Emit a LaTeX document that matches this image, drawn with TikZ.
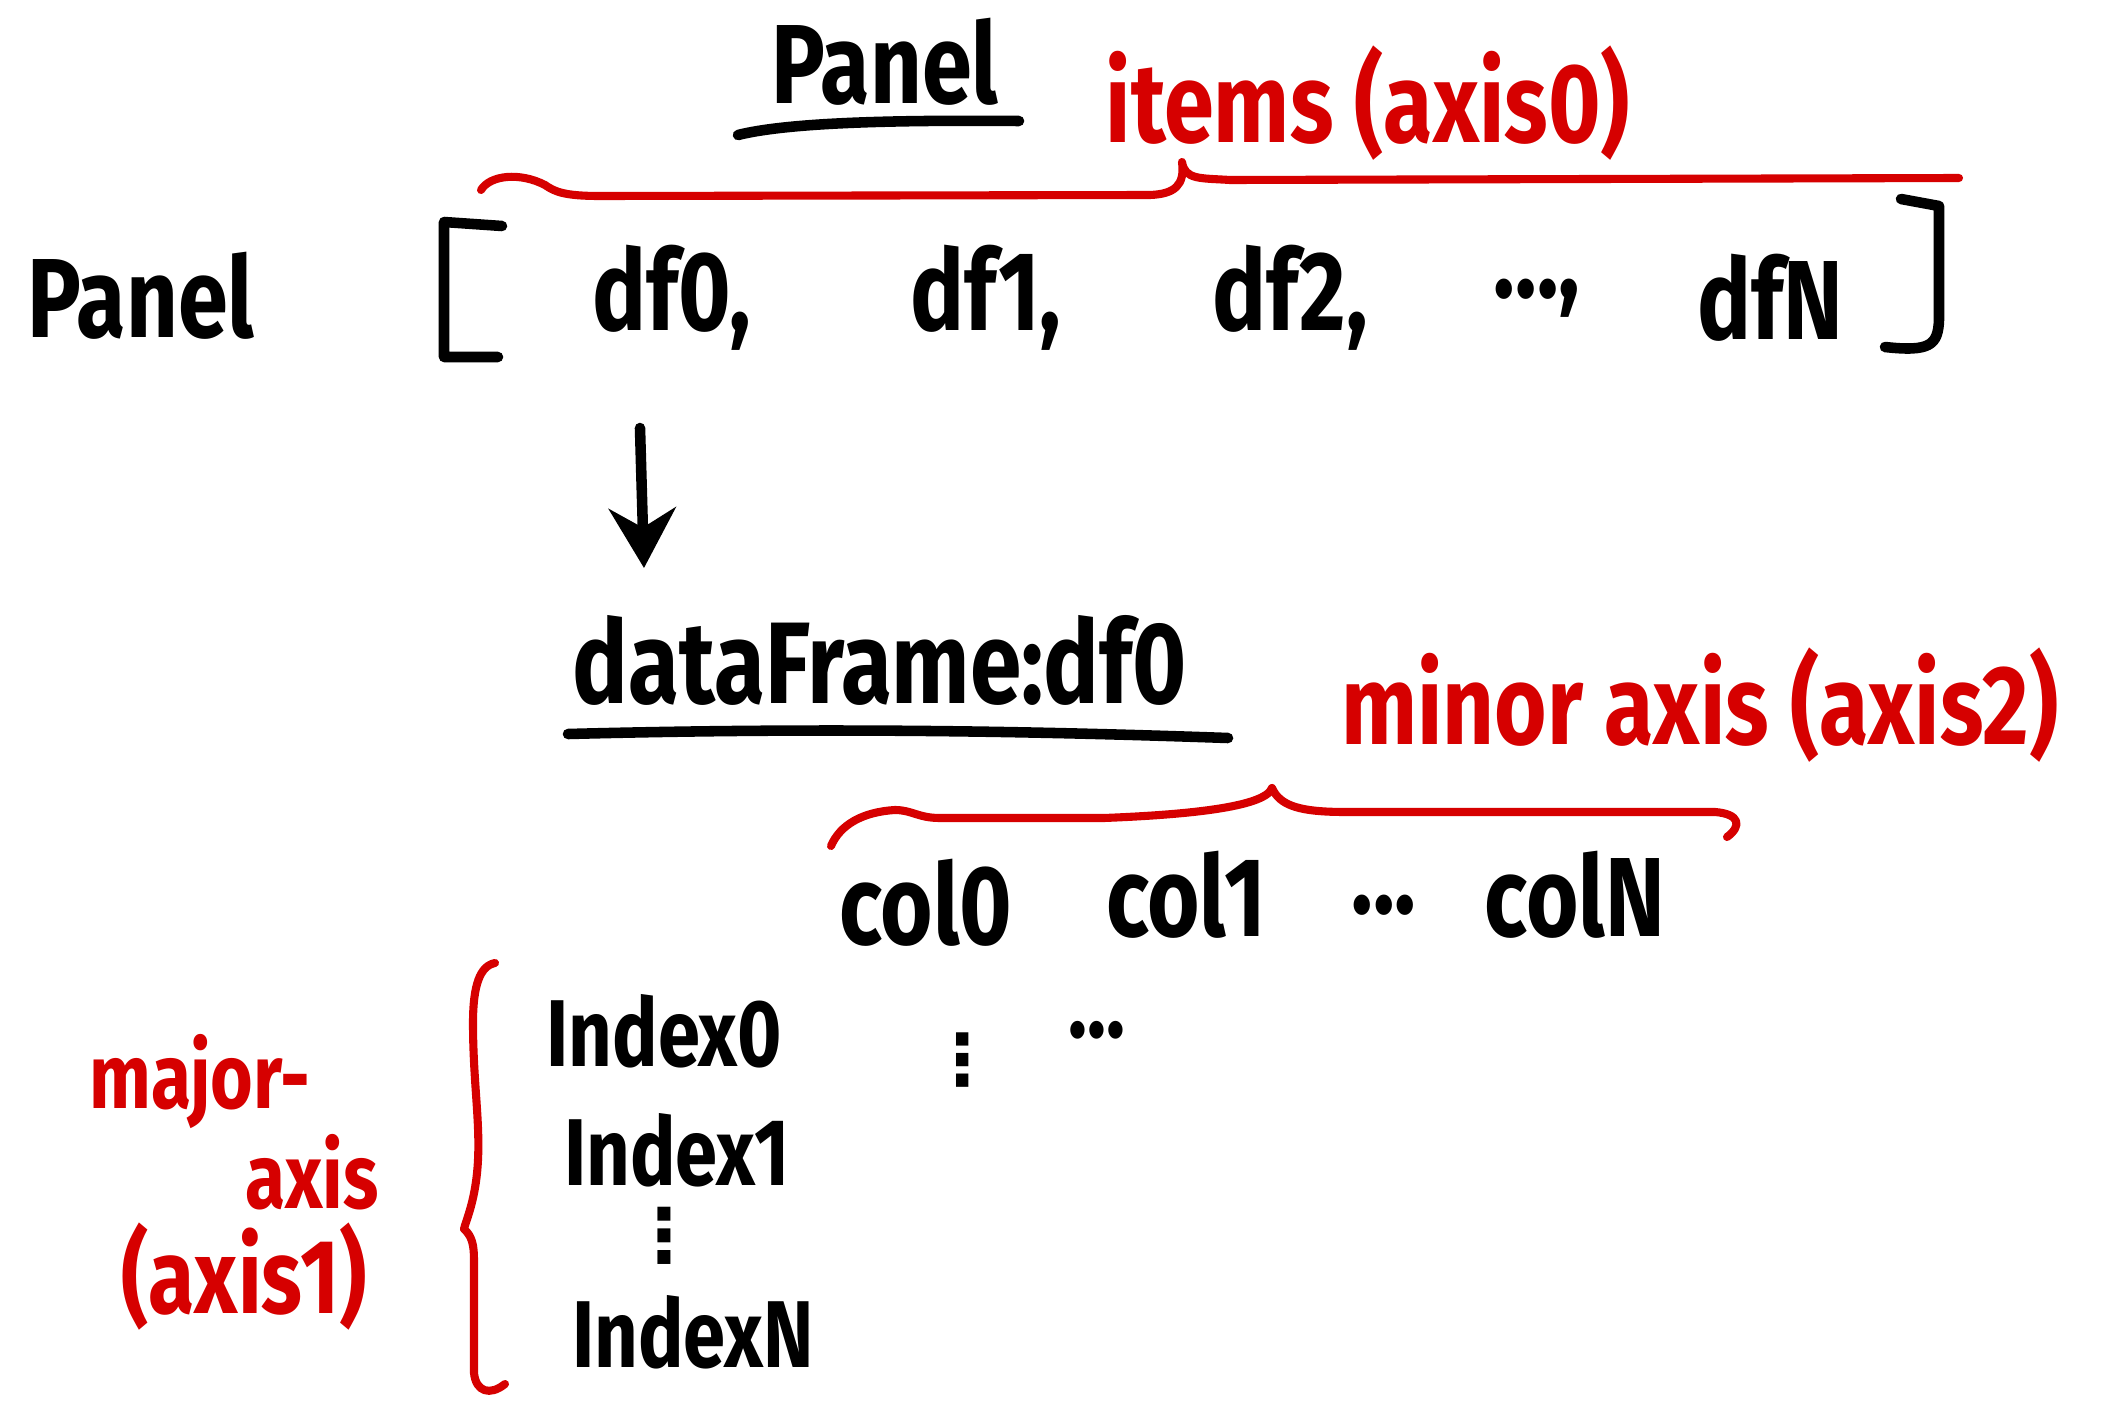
\documentclass[tikz,border=0pt]{standalone}
\usepackage{fontspec}
\setmainfont{Fira Sans}
\newfontfamily\hand[FakeStretch=0.8]{Fira Sans}
\newfontfamily\symfont{DejaVu Sans}
\usetikzlibrary{arrows.meta}
\definecolor{penred}{RGB}{214,0,0}
\begin{document}
\begin{tikzpicture}[x=0.01cm,y=-0.01cm,
  hw/.style={font=\hand\bfseries\fontsize{32}{38}\selectfont, text=black, inner sep=0pt},
  hwred/.style={hw, text=penred},
  hwsmall/.style={font=\hand\bfseries\fontsize{26}{30}\selectfont, text=penred, inner sep=0pt},
  idx/.style={font=\hand\bfseries\fontsize{27}{32}\selectfont, text=black, inner sep=0pt},
  pen/.style={line width=3pt, line cap=round, line join=round},
  redpen/.style={line width=2.3pt, draw=penred, line cap=round, line join=round},
  arr/.style={pen, -{Stealth[length=17pt,width=19pt]}}]
\useasboundingbox[fill=white] (0,0) rectangle (2111,1421);

% titles
\node[hw] (paneltitle) at (885,62) {Panel};
\draw[pen] (738,135) .. controls (790,122) and (900,120) .. (1019,121);
\node[hwred] (items) at (1368,103) {items (axis0)};

% top brace
\draw[redpen] (481,190) .. controls (490,175) and (520,172) .. (545,185)
  .. controls (555,192) and (565,196) .. (600,196) -- (1150,195)
  .. controls (1175,194) and (1185,185) .. (1182,162)
  .. controls (1185,180) and (1200,178) .. (1230,180) -- (1959,178);

% left label
\node[hw] (panelleft) at (141,296) {Panel};

% brackets
\draw[pen] (502,226) -- (444,222) -- (444,357) -- (498,357);
\draw[pen] (1901,199) -- (1939,206) -- (1939,320) .. controls (1938,345) and (1930,352) .. (1885,347);

% list items
\node[hw] (df0) at (672,298) {df0,};
\node[hw] (df1) at (986,298) {df1,};
\node[hw] (df2) at (1290,298) {df2,};
\node[hw] (dfdots) at (1537,298) {…,};
\node[hw] (dfN) at (1770,298) {dfN};

% arrow
\coordinate (arrs) at (640,428);
\coordinate (arre) at (644,568);
\draw[arr] (arrs) -- (arre);

% dataframe
\node[hw, font=\hand\bfseries\fontsize{33}{38}\selectfont] (dataframe) at (880,660) {dataFrame:df0};
\draw[pen] (568,734) .. controls (800,728) and (1000,730) .. (1228,738);
\node[hwred] (minor) at (1700,705) {minor axis (axis2)};

% minor brace
\draw[redpen] (831,846) .. controls (840,825) and (862,812) .. (895,810)
  .. controls (912,810) and (918,818) .. (940,818) -- (1104,818)
  .. controls (1180,815) and (1265,808) .. (1272,788)
  .. controls (1280,806) and (1300,812) .. (1346,812) -- (1715,812)
  .. controls (1740,814) and (1742,826) .. (1727,837);

% columns
\node[hw] (col0) at (926,903) {col0};
\node[hw] (col1) at (1186,895) {col1};
\node[hw] (coldots) at (1384,905) {...};
\node[hw] (colN) at (1575,895) {colN};

% major brace
\draw[redpen] (495,963) .. controls (480,966) and (473,985) .. (473,1023)
  .. controls (473,1080) and (480,1120) .. (478,1160)
  .. controls (476,1200) and (466,1220) .. (464,1229)
  .. controls (472,1236) and (474,1245) .. (474,1260) -- (474,1373)
  .. controls (476,1392) and (490,1396) .. (505,1384);

% major labels
\node[hwsmall] (major) at (200,1082) {major-};
\node[hwsmall] (axisword) at (312,1172) {axis};
\node[hwred, font=\hand\bfseries\fontsize{30}{34}\selectfont] (axisone) at (244,1277) {(axis1)};

% index
\node[idx] (index0) at (664,1031) {Index0};
\node[idx] (index1) at (677,1150) {Index1};
\node[font=\symfont\bfseries\fontsize{21}{24}\selectfont, inner sep=0pt] (idxdots) at (664,1236) {⋮};
\node[idx] (indexN) at (693,1332) {IndexN};

% stray dots
\node[font=\symfont\bfseries\fontsize{20}{24}\selectfont, inner sep=0pt] (vdots) at (963,1060) {⋮};
\node[hw, font=\hand\bfseries\fontsize{28}{30}\selectfont] (hdots) at (1097,1030) {...};
\end{tikzpicture}
\end{document}
